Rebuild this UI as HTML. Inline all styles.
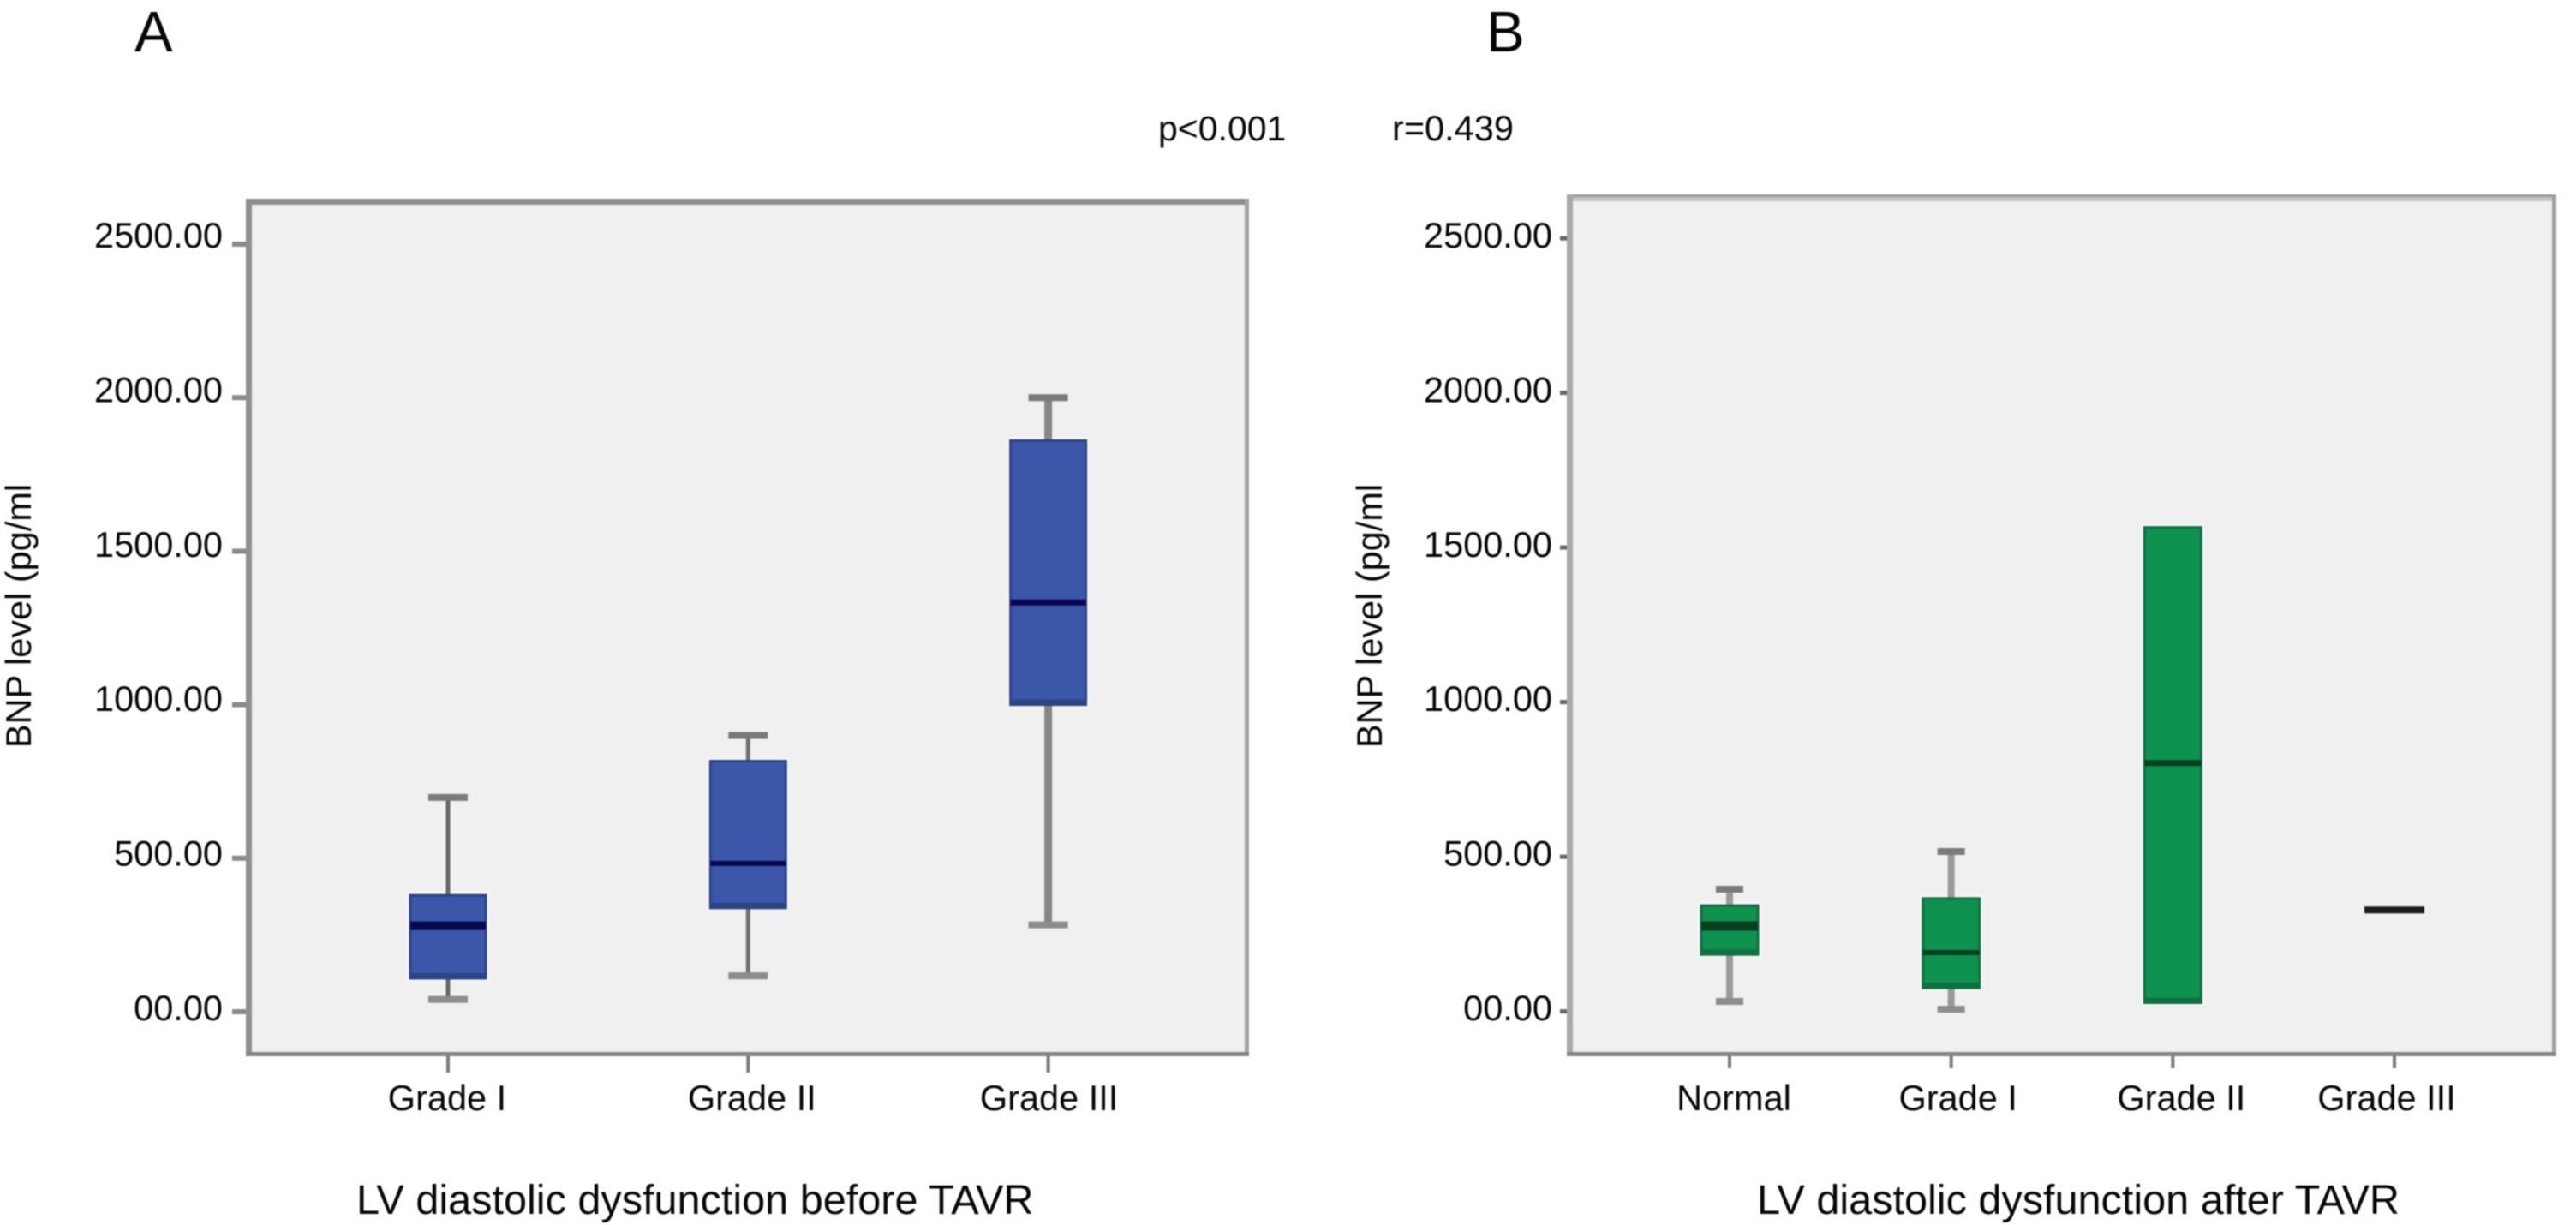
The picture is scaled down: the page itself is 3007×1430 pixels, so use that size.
<!DOCTYPE html>
<html lang="en">
<head>
<meta charset="utf-8">
<title>BNP level by LV diastolic dysfunction before and after TAVR</title>
<style>
html,body{margin:0;padding:0;background:#fff;width:3007px;height:1430px;overflow:hidden}
svg{display:block;filter:blur(0.7px)}
text{font-family:"Liberation Sans",sans-serif;fill:#050505}
</style>
</head>
<body>
<svg id="figure" xmlns="http://www.w3.org/2000/svg" width="3007" height="1430" viewBox="0 0 3007 1430">
  <rect x="0" y="0" width="3007" height="1430" fill="#ffffff"/>
  <text x="157" y="60" font-size="67">A</text>
  <text x="1735" y="60" font-size="67">B</text>
  <text x="1352" y="164" font-size="41">p&lt;0.001</text>
  <text x="1625" y="164" font-size="41.5">r=0.439</text>
  <text x="416" y="1417" font-size="48.6">LV diastolic dysfunction before TAVR</text>
  <text x="2051" y="1417" font-size="48.6">LV diastolic dysfunction after TAVR</text>
  <text transform="translate(36 719) rotate(-90)" text-anchor="middle" font-size="41.5">BNP level (pg/ml</text>
  <text transform="translate(1613 719) rotate(-90)" text-anchor="middle" font-size="41.5">BNP level (pg/ml</text>
  <g id="panel-a"></g>
  <g id="panel-b"></g>
</svg>
<script>
// Shared axis tick values and labels
const yTickValues = [0, 500, 1000, 1500, 2000, 2500];
const yTickLabels = ['00.00', '500.00', '1000.00', '1500.00', '2000.00', '2500.00'];

// Panel A: before TAVR
const categoriesA = ['Grade I', 'Grade II', 'Grade III'];
const whiskerHighA = [698, 900, 2000];
const q3A = [379, 816, 1860];
const medianA = [280, 483, 1333];
const q1A = [109, 338, 1000];
const whiskerLowA = [40, 117, 283];

// Panel B: after TAVR
const categoriesB = ['Normal', 'Grade I', 'Grade II', 'Grade III'];
const whiskerHighB = [395, 517, null, null];
const q3B = [342, 365, 1565, null];
const medianB = [276, 190, 803, 328];
const q1B = [184, 76, 28, null];
const whiskerLowB = [32, 7, null, null];

const SVG_NS = 'http://www.w3.org/2000/svg';

function make(parent, tag, attrs) {
  const node = document.createElementNS(SVG_NS, tag);
  for (const key in attrs) node.setAttribute(key, attrs[key]);
  parent.appendChild(node);
  return node;
}

function drawPanel(root, cfg, categories, high, q3, median, q1, low) {
  const yScale = function (v) { return cfg.y0 - v * cfg.yPerUnit; };
  const yLabelScale = function (v) { return 1191 - v * 0.3608; };
  const band = (cfg.lastCenter - cfg.firstCenter) / (categories.length - 1);
  const xScale = function (i) { return cfg.firstCenter + i * band; };

  const plot = make(root, 'rect', {x: cfg.left, y: cfg.top, width: cfg.right - cfg.left, height: cfg.bottom - cfg.top, fill: '#f0f0f0'});
  
  

  const frameTop = make(root, 'rect', {x: cfg.left - cfg.leftBand, y: cfg.top - cfg.topBand, width: cfg.right - cfg.left + cfg.leftBand + cfg.rightBand, height: cfg.topBand, fill: cfg.topColor});
  
  

  const frameTopLine = make(root, 'rect', {x: cfg.left - cfg.leftBand, y: cfg.top - cfg.topBand, width: cfg.right - cfg.left + cfg.leftBand + cfg.rightBand, height: 3, fill: cfg.topLineColor});
  
  

  const frameLeft = make(root, 'rect', {x: cfg.left - cfg.leftBand, y: cfg.top - cfg.topBand, width: cfg.leftBand, height: cfg.bottom - cfg.top + cfg.topBand + 5, fill: cfg.leftColor});
  
  

  const frameRight = make(root, 'rect', {x: cfg.right, y: cfg.top - cfg.topBand, width: cfg.rightBand, height: cfg.bottom - cfg.top + cfg.topBand + 5, fill: cfg.rightColor});
  
  

  const frameBottom = make(root, 'rect', {x: cfg.left - cfg.leftBand, y: cfg.bottom, width: cfg.right - cfg.left + cfg.leftBand + cfg.rightBand, height: 5, fill: '#858585'});
  
  

  yTickValues.forEach(function (value, i) {
    const tick = make(root, 'line', {x1: cfg.left - cfg.leftBand - cfg.yTickLen, x2: cfg.left - cfg.leftBand, y1: yScale(value), y2: yScale(value), stroke: cfg.yTickColor, 'stroke-width': cfg.yTickWidth});
    
    
    const label = make(root, 'text', {x: cfg.labelRight, y: yLabelScale(value), 'text-anchor': 'end', 'font-size': 41.5});
    
    
    label.textContent = yTickLabels[i];
  });

  categories.forEach(function (name, i) {
    const cx = xScale(i);
    const tick = make(root, 'line', {x1: cx, x2: cx, y1: cfg.bottom + 5, y2: cfg.bottom + cfg.xTickLen, stroke: '#7a7a7a', 'stroke-width': 4});
    
    
    const label = make(root, 'text', {x: cx + cfg.labelShift[i], y: 1296, 'text-anchor': 'middle', 'font-size': 41.5});
    
    
    label.textContent = name;

    if (q3[i] !== null && q1[i] !== null) {
      const halo = make(root, 'rect', {x: cx - cfg.boxHalf - 4, y: yScale(q3[i]) - 4, width: cfg.boxHalf * 2 + 8, height: yScale(q1[i]) - yScale(q3[i]) + 8, fill: '#f5f6f9'});
      
      
    }

    const stemWidth = cfg.whiskerWidth[i];
    const stemColor = cfg.whiskerColor[i];
    if (high[i] !== null && q3[i] !== null) {
      const upper = make(root, 'line', {x1: cx, x2: cx, y1: yScale(high[i]), y2: yScale(q3[i]), stroke: stemColor, 'stroke-width': stemWidth});
      
      
      const capHigh = make(root, 'line', {x1: cx - cfg.capHalf, x2: cx + cfg.capHalf, y1: yScale(high[i]), y2: yScale(high[i]), stroke: '#7a7a7a', 'stroke-width': 8});
      
      
    }
    if (low[i] !== null && q1[i] !== null) {
      const lower = make(root, 'line', {x1: cx, x2: cx, y1: yScale(q1[i]), y2: yScale(low[i]), stroke: stemColor, 'stroke-width': stemWidth});
      
      
      const capLow = make(root, 'line', {x1: cx - cfg.capHalf, x2: cx + cfg.capHalf, y1: yScale(low[i]), y2: yScale(low[i]), stroke: '#8c8c8c', 'stroke-width': 8});
      
      
    }
    if (q3[i] !== null && q1[i] !== null) {
      const box = make(root, 'rect', {x: cx - cfg.boxHalf, y: yScale(q3[i]), width: cfg.boxHalf * 2, height: yScale(q1[i]) - yScale(q3[i]), fill: cfg.boxColor, stroke: cfg.edgeColor, 'stroke-width': 3});
      
      
      const bottomBand = make(root, 'rect', {x: cx - cfg.boxHalf, y: yScale(q1[i]) - 6, width: cfg.boxHalf * 2, height: 7, fill: cfg.edgeColor});
      
      
    }
    const medianHalf = q3[i] === null ? cfg.boxHalf + 2 : cfg.boxHalf;
    const med = make(root, 'line', {x1: cx - medianHalf, x2: cx + medianHalf, y1: yScale(median[i]), y2: yScale(median[i]), stroke: cfg.medianColor[i], 'stroke-width': cfg.medianWidth[i]});
    
    
  });
}

drawPanel(document.getElementById('panel-a'), {
  left: 294, right: 1453, top: 239, bottom: 1228, topBand: 7, leftBand: 7, rightBand: 5,
  topColor: '#8e8e8e', topLineColor: '#8e8e8e', leftColor: '#8f8f8f', rightColor: '#a0a0a0',
  y0: 1181, yPerUnit: 0.3584, firstCenter: 523, lastCenter: 1223.6,
  labelRight: 260, labelShift: [-1, 4.5, 1], yTickLen: 16, yTickWidth: 6, yTickColor: '#8a8a8a', xTickLen: 24,
  boxHalf: 44, capHalf: 23, whiskerWidth: [5, 5, 9], whiskerColor: ['#666666', '#6f6f6f', '#858585'],
  boxColor: '#3c57a9', edgeColor: '#2d4384', medianColor: ['#07074f', '#07074f', '#07074f'], medianWidth: [10, 6, 7]
}, categoriesA, whiskerHighA, q3A, medianA, q1A, whiskerLowA);

drawPanel(document.getElementById('panel-b'), {
  left: 1836, right: 2979, top: 235, bottom: 1228, topBand: 8, leftBand: 7, rightBand: 5,
  topColor: '#c4c4c4', topLineColor: '#9a9a9a', leftColor: '#a8a8a8', rightColor: '#a0a0a0',
  y0: 1180.6, yPerUnit: 0.361, firstCenter: 2019, lastCenter: 2795,
  labelRight: 1812, labelShift: [5, 8, 10, -9], yTickLen: 8, yTickWidth: 5, yTickColor: '#666666', xTickLen: 19,
  boxHalf: 33, capHalf: 16, whiskerWidth: [8, 8, 8, 8], whiskerColor: ['#9a9a9a', '#9a9a9a', '#9a9a9a', '#9a9a9a'],
  boxColor: '#0f9150', edgeColor: '#127040', medianColor: ['#073f21', '#073f21', '#073f21', '#1a1a1a'], medianWidth: [11, 6, 7, 8]
}, categoriesB, whiskerHighB, q3B, medianB, q1B, whiskerLowB);
</script>
</body>
</html>
